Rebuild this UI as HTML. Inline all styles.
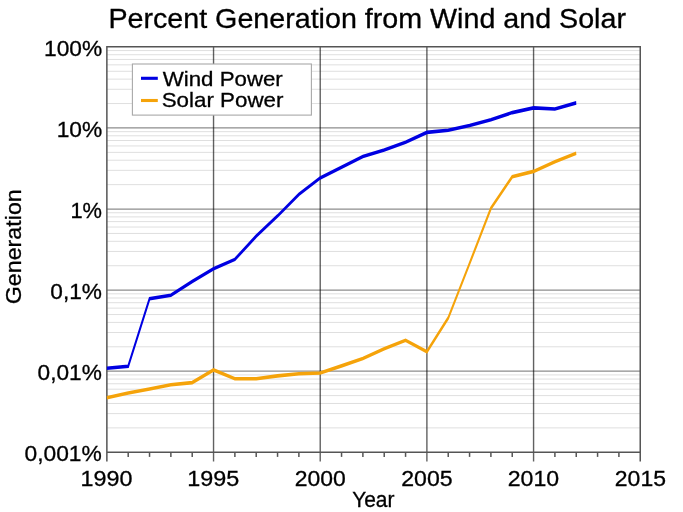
<!DOCTYPE html>
<html><head><meta charset="utf-8"><style>
html,body{margin:0;padding:0;background:#fff;width:683px;height:512px;overflow:hidden}
svg{display:block;will-change:transform}
text{font-family:'Liberation Sans', sans-serif;fill:#000;stroke:#000;stroke-width:0.3px}
.mn{stroke:rgba(0,0,0,0.13);stroke-width:1}
.mjh{stroke:rgba(0,0,0,0.45);stroke-width:1.3}
.mjv{stroke:rgba(0,0,0,0.62);stroke-width:1.4}
.tk{stroke:#555;stroke-width:1.5}
.bd{stroke:#555;stroke-width:1.5;fill:none}
.dl{fill:none;stroke-width:3.6;stroke-linejoin:miter;stroke-linecap:butt}
</style></head><body>
<svg width="683" height="512" viewBox="0 0 683 512">
<line x1="106.87" x2="640.24" y1="427.89" y2="427.89" class="mn"/>
<line x1="106.87" x2="640.24" y1="413.61" y2="413.61" class="mn"/>
<line x1="106.87" x2="640.24" y1="403.48" y2="403.48" class="mn"/>
<line x1="106.87" x2="640.24" y1="395.62" y2="395.62" class="mn"/>
<line x1="106.87" x2="640.24" y1="389.20" y2="389.20" class="mn"/>
<line x1="106.87" x2="640.24" y1="383.77" y2="383.77" class="mn"/>
<line x1="106.87" x2="640.24" y1="379.07" y2="379.07" class="mn"/>
<line x1="106.87" x2="640.24" y1="374.92" y2="374.92" class="mn"/>
<line x1="106.87" x2="640.24" y1="346.80" y2="346.80" class="mn"/>
<line x1="106.87" x2="640.24" y1="332.53" y2="332.53" class="mn"/>
<line x1="106.87" x2="640.24" y1="322.40" y2="322.40" class="mn"/>
<line x1="106.87" x2="640.24" y1="314.54" y2="314.54" class="mn"/>
<line x1="106.87" x2="640.24" y1="308.12" y2="308.12" class="mn"/>
<line x1="106.87" x2="640.24" y1="302.69" y2="302.69" class="mn"/>
<line x1="106.87" x2="640.24" y1="297.99" y2="297.99" class="mn"/>
<line x1="106.87" x2="640.24" y1="293.84" y2="293.84" class="mn"/>
<line x1="106.87" x2="640.24" y1="265.72" y2="265.72" class="mn"/>
<line x1="106.87" x2="640.24" y1="251.44" y2="251.44" class="mn"/>
<line x1="106.87" x2="640.24" y1="241.31" y2="241.31" class="mn"/>
<line x1="106.87" x2="640.24" y1="233.45" y2="233.45" class="mn"/>
<line x1="106.87" x2="640.24" y1="227.03" y2="227.03" class="mn"/>
<line x1="106.87" x2="640.24" y1="221.60" y2="221.60" class="mn"/>
<line x1="106.87" x2="640.24" y1="216.90" y2="216.90" class="mn"/>
<line x1="106.87" x2="640.24" y1="212.75" y2="212.75" class="mn"/>
<line x1="106.87" x2="640.24" y1="184.63" y2="184.63" class="mn"/>
<line x1="106.87" x2="640.24" y1="170.35" y2="170.35" class="mn"/>
<line x1="106.87" x2="640.24" y1="160.22" y2="160.22" class="mn"/>
<line x1="106.87" x2="640.24" y1="152.37" y2="152.37" class="mn"/>
<line x1="106.87" x2="640.24" y1="145.94" y2="145.94" class="mn"/>
<line x1="106.87" x2="640.24" y1="140.52" y2="140.52" class="mn"/>
<line x1="106.87" x2="640.24" y1="135.81" y2="135.81" class="mn"/>
<line x1="106.87" x2="640.24" y1="131.67" y2="131.67" class="mn"/>
<line x1="106.87" x2="640.24" y1="103.55" y2="103.55" class="mn"/>
<line x1="106.87" x2="640.24" y1="89.27" y2="89.27" class="mn"/>
<line x1="106.87" x2="640.24" y1="79.14" y2="79.14" class="mn"/>
<line x1="106.87" x2="640.24" y1="71.28" y2="71.28" class="mn"/>
<line x1="106.87" x2="640.24" y1="64.86" y2="64.86" class="mn"/>
<line x1="106.87" x2="640.24" y1="59.43" y2="59.43" class="mn"/>
<line x1="106.87" x2="640.24" y1="54.73" y2="54.73" class="mn"/>
<line x1="106.87" x2="640.24" y1="50.58" y2="50.58" class="mn"/>
<line x1="106.87" x2="640.24" y1="371.21" y2="371.21" class="mjh"/>
<line x1="106.87" x2="640.24" y1="290.13" y2="290.13" class="mjh"/>
<line x1="106.87" x2="640.24" y1="209.04" y2="209.04" class="mjh"/>
<line x1="106.87" x2="640.24" y1="127.96" y2="127.96" class="mjh"/>
<line x1="213.54" x2="213.54" y1="46.87" y2="461.60" class="mjv"/>
<line x1="320.22" x2="320.22" y1="46.87" y2="461.60" class="mjv"/>
<line x1="426.89" x2="426.89" y1="46.87" y2="461.60" class="mjv"/>
<line x1="533.57" x2="533.57" y1="46.87" y2="461.60" class="mjv"/>
<line x1="128.20" x2="128.20" y1="452.30" y2="456.9" class="tk"/>
<line x1="149.54" x2="149.54" y1="452.30" y2="456.9" class="tk"/>
<line x1="170.87" x2="170.87" y1="452.30" y2="456.9" class="tk"/>
<line x1="192.21" x2="192.21" y1="452.30" y2="456.9" class="tk"/>
<line x1="234.88" x2="234.88" y1="452.30" y2="456.9" class="tk"/>
<line x1="256.21" x2="256.21" y1="452.30" y2="456.9" class="tk"/>
<line x1="277.55" x2="277.55" y1="452.30" y2="456.9" class="tk"/>
<line x1="298.88" x2="298.88" y1="452.30" y2="456.9" class="tk"/>
<line x1="341.55" x2="341.55" y1="452.30" y2="456.9" class="tk"/>
<line x1="362.89" x2="362.89" y1="452.30" y2="456.9" class="tk"/>
<line x1="384.22" x2="384.22" y1="452.30" y2="456.9" class="tk"/>
<line x1="405.56" x2="405.56" y1="452.30" y2="456.9" class="tk"/>
<line x1="448.23" x2="448.23" y1="452.30" y2="456.9" class="tk"/>
<line x1="469.56" x2="469.56" y1="452.30" y2="456.9" class="tk"/>
<line x1="490.90" x2="490.90" y1="452.30" y2="456.9" class="tk"/>
<line x1="512.23" x2="512.23" y1="452.30" y2="456.9" class="tk"/>
<line x1="554.90" x2="554.90" y1="452.30" y2="456.9" class="tk"/>
<line x1="576.24" x2="576.24" y1="452.30" y2="456.9" class="tk"/>
<line x1="597.57" x2="597.57" y1="452.30" y2="456.9" class="tk"/>
<line x1="618.91" x2="618.91" y1="452.30" y2="456.9" class="tk"/>
<rect x="132.4" y="64.0" width="179.00" height="51.10" fill="#fff" stroke="#a8a8a8" stroke-width="1.1"/>
<line x1="141" x2="157.8" y1="78.3" y2="78.3" stroke="#0000e2" stroke-width="3.1"/>
<line x1="141" x2="157.8" y1="100.5" y2="100.5" stroke="#f5a30a" stroke-width="3.1"/>
<path d="M106.87 461.60 V46.87 H640.24 V461.60 M106.87 452.30 H640.24" class="bd"/>
<g transform="scale(0.5,1)">
<path d="M213.740,368.30 L256.410,366.20 L299.079,298.80 L341.749,295.30 L384.418,281.50 L427.088,268.80 L469.758,259.40 L512.427,236.20 L555.097,216.00 L597.766,194.30 L640.436,177.90 L683.106,167.20 L725.775,156.50 L768.445,150.00 L811.114,142.30 L853.784,132.40 L896.454,130.20 L939.123,125.50 L981.793,119.80 L1024.462,112.60 L1067.132,107.90 L1109.802,109.00 L1152.471,102.90" class="dl" stroke="#0000e2"/>
<path d="M213.740,397.70 L256.410,393.00 L299.079,389.00 L341.749,384.80 L384.418,382.60 L427.088,369.90 L469.758,378.80 L512.427,378.70 L555.097,375.90 L597.766,373.80 L640.436,373.00 L683.106,365.90 L725.775,358.60 L768.445,348.80 L811.114,340.30 L853.784,351.70 L896.454,318.00 L939.123,263.50 L981.793,208.30 L1024.462,176.70 L1067.132,171.40 L1109.802,161.80 L1152.471,153.20" class="dl" stroke="#f5a30a"/>
</g>
<text id="title" x="108.42" y="28.20" font-size="26.9" textLength="517.55" lengthAdjust="spacingAndGlyphs">Percent Generation from Wind and Solar</text>
<text id="y2" x="44.07" y="55.87" font-size="21.2" textLength="58.16" lengthAdjust="spacingAndGlyphs">100%</text>
<text id="y1" x="56.66" y="136.96" font-size="21.2" textLength="45.58" lengthAdjust="spacingAndGlyphs">10%</text>
<text id="y0" x="70.42" y="218.04" font-size="21.2" textLength="31.59" lengthAdjust="spacingAndGlyphs">1%</text>
<text id="ym1" x="50.31" y="299.13" font-size="21.2" textLength="51.63" lengthAdjust="spacingAndGlyphs">0,1%</text>
<text id="ym2" x="37.57" y="380.21" font-size="21.2" textLength="64.26" lengthAdjust="spacingAndGlyphs">0,01%</text>
<text id="ym3" x="24.51" y="461.30" font-size="21.2" textLength="77.34" lengthAdjust="spacingAndGlyphs">0,001%</text>
<text id="x1990" x="80.60" y="486.20" font-size="21.2" textLength="51.91" lengthAdjust="spacingAndGlyphs">1990</text>
<text id="x1995" x="187.31" y="486.20" font-size="21.2" textLength="52.00" lengthAdjust="spacingAndGlyphs">1995</text>
<text id="x2000" x="294.79" y="486.20" font-size="21.2" textLength="51.05" lengthAdjust="spacingAndGlyphs">2000</text>
<text id="x2005" x="401.29" y="486.20" font-size="21.2" textLength="51.37" lengthAdjust="spacingAndGlyphs">2005</text>
<text id="x2010" x="507.76" y="486.20" font-size="21.2" textLength="51.41" lengthAdjust="spacingAndGlyphs">2010</text>
<text id="x2015" x="614.84" y="486.20" font-size="21.2" textLength="51.13" lengthAdjust="spacingAndGlyphs">2015</text>
<text id="year" x="352.15" y="507.20" font-size="21.2" textLength="42.36" lengthAdjust="spacingAndGlyphs">Year</text>
<text id="wind" x="162.71" y="85.50" font-size="20.8" textLength="120.09" lengthAdjust="spacingAndGlyphs">Wind Power</text>
<text id="solar" x="161.72" y="107.30" font-size="20.8" textLength="121.65" lengthAdjust="spacingAndGlyphs">Solar Power</text>
<text id="gen" transform="translate(21.0,303.3) rotate(-90)" x="-1.04" y="0" font-size="21.2" textLength="115.11" lengthAdjust="spacingAndGlyphs">Generation</text>
</svg>
</body></html>
